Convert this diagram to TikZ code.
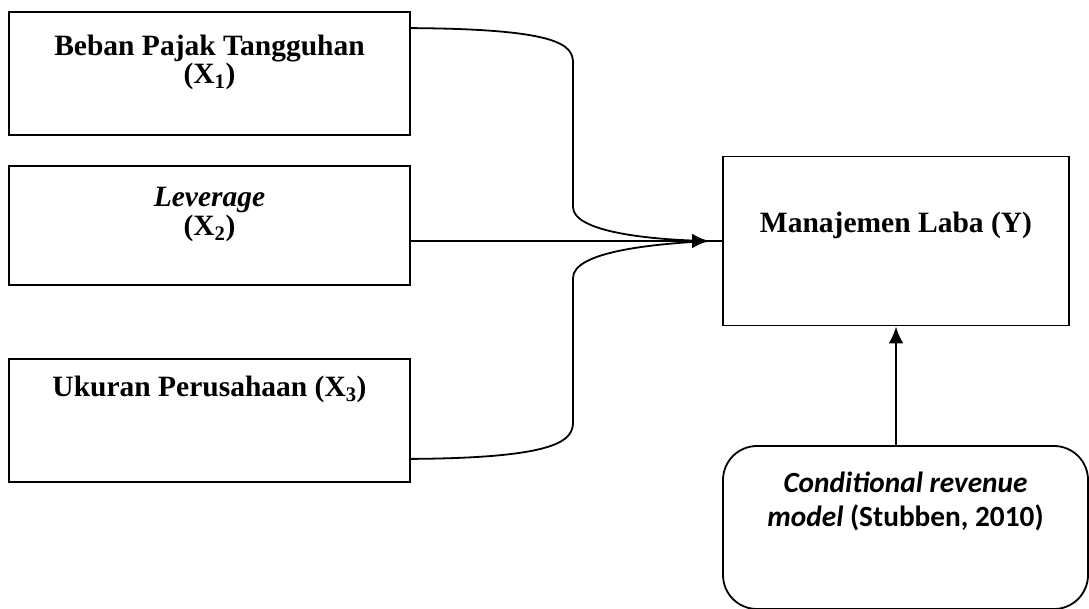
\documentclass[tikz,border=0pt]{standalone}
\usepackage{fontspec}
\setmainfont{Liberation Serif}
\newfontfamily\calibri{Carlito}
\usetikzlibrary{arrows.meta}
\tikzset{
varbox/.style={draw, line width=1.8pt, minimum width=401pt, align=center, font=\fontsize{29.5}{29.5}\selectfont\bfseries},
modelbox/.style={draw, line width=1.8pt, rounded corners=34pt, minimum width=365pt, minimum height=163pt, align=center, font=\calibri\fontsize{29.3}{34.5}\selectfont\bfseries},
link/.style={line width=1.8pt},
effect/.style={line width=2.8pt, -{Latex[length=17pt,width=15pt]}}
}

\begin{document}
\begin{tikzpicture}[x=1pt,y=-1pt]
\useasboundingbox (0,0) rectangle (1089,608);
\node[varbox, minimum height=123pt] (pajak) at (209.5,73.5) {Beban Pajak Tangguhan\\[-2pt](X\textsubscript{1})\\[-10pt]\strut};
\node[varbox, minimum height=119pt] (lev) at (209.5,225.5) {\textit{Leverage}\\(X\textsubscript{2})\\[-10pt]\strut};
\node[varbox, minimum height=123pt] (ukuran) at (209.5,420.5) {Ukuran Perusahaan (X\textsubscript{3})\\\strut\\\strut};
\node[varbox, minimum width=346pt, minimum height=169pt] (laba) at (896,241) {Manajemen Laba (Y)\\\strut};
\node[modelbox] (model) at (905.5,527.5) {\textit{Conditional revenue}\\\textit{model} (Stubben, 2010)\\[12pt]\strut};
\coordinate (tip) at ([xshift=-13pt]laba.west);
% joined paths into Y
\draw[link] ([yshift=-17pt]pajak.north east) .. controls (560,29) and (573,45) .. (573,63) -- (573,207) .. controls (573,232) and (650,240) .. (tip);
\draw[link] ([yshift=24pt]ukuran.south east) .. controls (560,458) and (573,440) .. (573,422) -- (573,278) .. controls (573,252) and (650,244) .. (tip);
\draw[effect] (lev.east |- tip) -- (tip);
\draw[effect, -] (tip) -- (laba.west);
\draw[effect] (laba.south |- model.north) -- (laba.south);
\end{tikzpicture}
\end{document}
